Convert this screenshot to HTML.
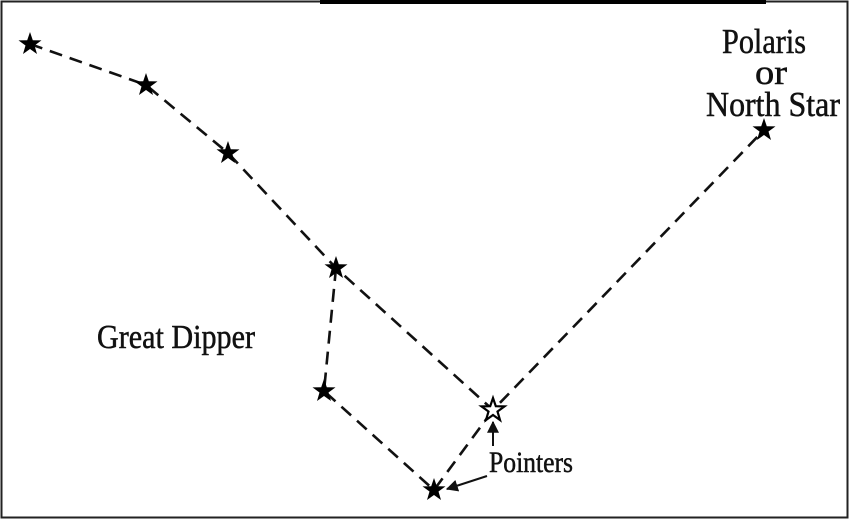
<!DOCTYPE html>
<html><head><style>
html,body{margin:0;padding:0;background:#fff;}
svg{display:block;}
text{font-family:"Liberation Serif",serif;fill:#111;stroke:#111;stroke-width:0.5;}
</style></head><body>
<svg width="850" height="520" viewBox="0 0 850 520" xmlns="http://www.w3.org/2000/svg">
<defs>
<polygon id="st" points="0,-12 2.8,-3.8 11.5,-3.6 4.5,1.5 7,10 0,5 -7,10 -4.5,1.5 -11.5,-3.6 -2.8,-3.8"/>
<marker id="ah" viewBox="0 0 10 10" refX="9" refY="5" markerWidth="6" markerHeight="6" orient="auto"><path d="M0,0 L10,5 L0,10 z" fill="#111"/></marker>
</defs>
<rect x="1.5" y="1.5" width="846" height="516" fill="none" stroke="#222" stroke-width="2"/>
<rect x="320" y="0" width="446" height="4" fill="#000"/>
<g fill="none" stroke="#111" stroke-width="2.6" stroke-dasharray="13,8">
<polyline points="30,44 146,85 228,153 336,268 493,410 764,130"/>
<polyline points="336,268 324,391 434,490 493,410"/>
</g>
<g fill="#000">
<use href="#st" x="30" y="44"/>
<use href="#st" x="146" y="85"/>
<use href="#st" x="228" y="153"/>
<use href="#st" x="336" y="268"/>
<use href="#st" x="324" y="391"/>
<use href="#st" x="434" y="490"/>
<use href="#st" x="764" y="130"/>
</g>
<use href="#st" x="493" y="410" fill="#fff" stroke="#000" stroke-width="2.2"/>
<g stroke="#111" stroke-width="2">
<line x1="493" y1="446" x2="493" y2="422" marker-end="url(#ah)"/>
<line x1="487" y1="476" x2="447" y2="489" marker-end="url(#ah)"/>
</g>
<text x="722" y="53" font-size="35" textLength="84" lengthAdjust="spacingAndGlyphs">Polaris</text>
<text x="755" y="84" font-size="35" textLength="32" lengthAdjust="spacingAndGlyphs">or</text>
<text x="706" y="116" font-size="35" textLength="134" lengthAdjust="spacingAndGlyphs">North Star</text>
<text x="97" y="348" font-size="34" textLength="158" lengthAdjust="spacingAndGlyphs">Great Dipper</text>
<text x="489" y="472" font-size="30" textLength="84" lengthAdjust="spacingAndGlyphs">Pointers</text>
</svg>
</body></html>
